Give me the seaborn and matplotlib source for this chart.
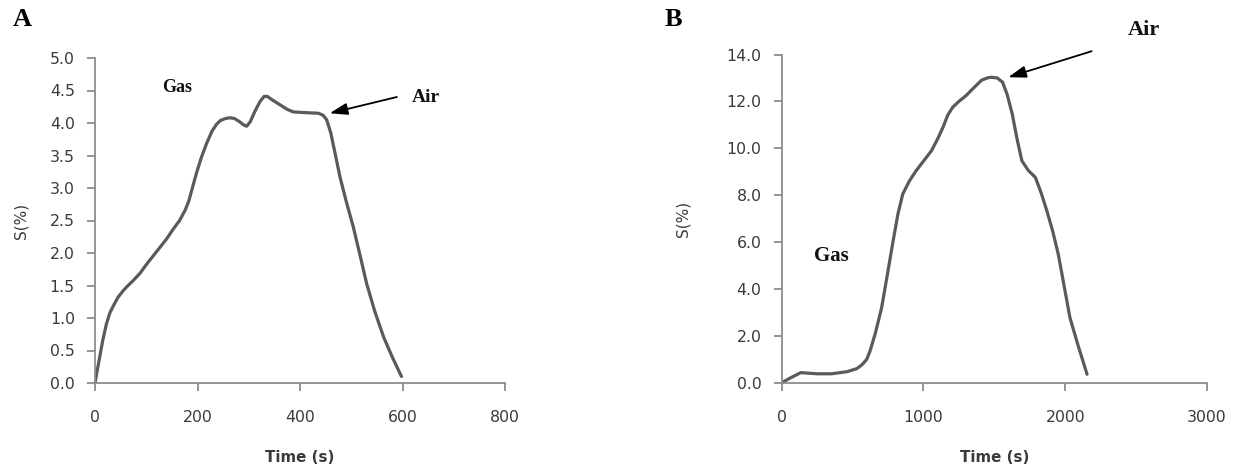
import matplotlib
matplotlib.use("Agg")
import matplotlib.pyplot as plt
import seaborn as sns
import pandas as pd

# Panel A data
time_a = [0, 8, 15, 22, 29, 38, 45, 55, 62, 75, 88, 100, 115, 128, 140, 152, 165, 176, 183, 190, 198, 208, 218, 228, 237, 245, 255, 263, 272, 282, 290, 296, 303, 312, 322, 330, 336, 345, 361, 375, 387, 410, 436, 445, 452, 460, 468, 478, 490, 504, 517, 530, 546, 563, 580, 598]
s_a = [0.0, 0.35, 0.65, 0.9, 1.08, 1.22, 1.32, 1.42, 1.48, 1.58, 1.69, 1.82, 1.97, 2.1, 2.22, 2.36, 2.5, 2.66, 2.8, 3.0, 3.23, 3.48, 3.69, 3.87, 3.98, 4.04, 4.07, 4.08, 4.07, 4.02, 3.97, 3.95, 4.02, 4.18, 4.33, 4.41, 4.41, 4.36, 4.28, 4.21, 4.17, 4.16, 4.15, 4.12, 4.05, 3.85, 3.55, 3.17, 2.8, 2.4, 1.97, 1.53, 1.1, 0.71, 0.4, 0.1]

# Panel B data
time_b = [0, 60, 135, 250, 352, 461, 530, 569, 600, 623, 660, 705, 745, 786, 820, 854, 900, 949, 1000, 1057, 1100, 1138, 1170, 1206, 1250, 1301, 1350, 1409, 1450, 1477, 1520, 1558, 1590, 1626, 1660, 1694, 1740, 1789, 1830, 1870, 1910, 1951, 1990, 2033, 2090, 2154]
s_b = [0.0, 0.2, 0.43, 0.38, 0.38, 0.47, 0.6, 0.78, 1.0, 1.35, 2.1, 3.2, 4.6, 6.05, 7.2, 8.05, 8.6, 9.05, 9.45, 9.9, 10.4, 10.9, 11.4, 11.75, 12.0, 12.25, 12.55, 12.9, 13.0, 13.03, 13.0, 12.82, 12.3, 11.47, 10.4, 9.47, 9.05, 8.76, 8.1, 7.34, 6.5, 5.48, 4.2, 2.78, 1.6, 0.36]

y_ticks_a = [0.0, 0.5, 1.0, 1.5, 2.0, 2.5, 3.0, 3.5, 4.0, 4.5, 5.0]
y_ticks_b = [0.0, 2.0, 4.0, 6.0, 8.0, 10.0, 12.0, 14.0]
x_ticks_a = [0, 200, 400, 600, 800]
x_ticks_b = [0, 1000, 2000, 3000]

sns.set_theme(style="ticks")
plt.rcParams['font.family'] = ['DejaVu Sans']

W, H = 1242, 470
fig = plt.figure(figsize=(W / 100, H / 100), dpi=100)
axA = fig.add_axes([95 / W, 1 - 383 / H, (505 - 95) / W, (383 - 58) / H])
axB = fig.add_axes([781.7 / W, 1 - 382.7 / H, (1207 - 781.7) / W, (382.7 - 54.5) / H])

line_color = "#5a5a5a"
spine_color = "#8c8c8c"
text_color = "#3a3a3a"

dfA = pd.DataFrame({"Time (s)": time_a, "S(%)": s_a})
dfB = pd.DataFrame({"Time (s)": time_b, "S(%)": s_b})

sns.lineplot(data=dfA, x="Time (s)", y="S(%)", ax=axA, color=line_color, linewidth=2.3, sort=False)
sns.lineplot(data=dfB, x="Time (s)", y="S(%)", ax=axB, color=line_color, linewidth=2.3, sort=False)

for ax, xt, yt, xlim, ylim, ylpad in [(axA, x_ticks_a, y_ticks_a, (0, 800), (0, 5.0), 15),
                                      (axB, x_ticks_b, y_ticks_b, (0, 3000), (0, 14.0), 26)]:
    ax.set_xlim(*xlim)
    ax.set_ylim(*ylim)
    ax.set_xticks(xt)
    ax.set_yticks(yt)
    ax.set_xticklabels([str(v) for v in xt])
    ax.set_yticklabels([f"{v:.1f}" for v in yt])
    for side in ["top", "right"]:
        ax.spines[side].set_visible(False)
    for side in ["left", "bottom"]:
        ax.spines[side].set_color(spine_color)
        ax.spines[side].set_linewidth(1.3)
    ax.tick_params(axis="both", colors=spine_color, labelcolor=text_color, labelsize=11.3,
                   length=5.5, width=1.3, direction="out")
    ax.tick_params(axis="x", pad=14)
    ax.tick_params(axis="y", pad=9)
    ax.set_xlabel("Time (s)", fontsize=10.8, fontweight="bold", color=text_color, labelpad=18)
    ax.set_ylabel("S(%)", fontsize=11, color=text_color, labelpad=ylpad)
    ax.patch.set_alpha(0)

serif = ["Liberation Serif", "DejaVu Serif"]
arrow_props = dict(arrowstyle="-|>,head_length=0.9,head_width=0.3", color="black", lw=1.3,
                   mutation_scale=12, shrinkA=0, shrinkB=0)

# Panel A annotations
axA.text(160, 4.55, "Gas", family=serif, fontweight="bold", fontsize=13, ha="center", va="center", color="#111111")
axA.text(645, 4.4, "Air", family=serif, fontweight="bold", fontsize=14, ha="center", va="center", color="#111111")
axA.annotate("", xy=(458, 4.15), xytext=(589, 4.4), arrowprops=arrow_props)

# Panel B annotations
axB.text(353, 5.41, "Gas", family=serif, fontweight="bold", fontsize=15, ha="center", va="center", color="#111111")
axB.text(2555, 15.05, "Air", family=serif, fontweight="bold", fontsize=16, ha="center", va="center",
         color="#111111", clip_on=False)
axB.annotate("", xy=(1598, 13.03), xytext=(2186, 14.14), arrowprops=arrow_props, annotation_clip=False)

fig.text(22 / W, 1 - 20 / H, "A", family=serif, fontweight="bold", fontsize=19, ha="center", va="center", color="black")
fig.text(673 / W, 1 - 20 / H, "B", family=serif, fontweight="bold", fontsize=19, ha="center", va="center", color="black")

fig.savefig("out.png", dpi=100, facecolor="white")
